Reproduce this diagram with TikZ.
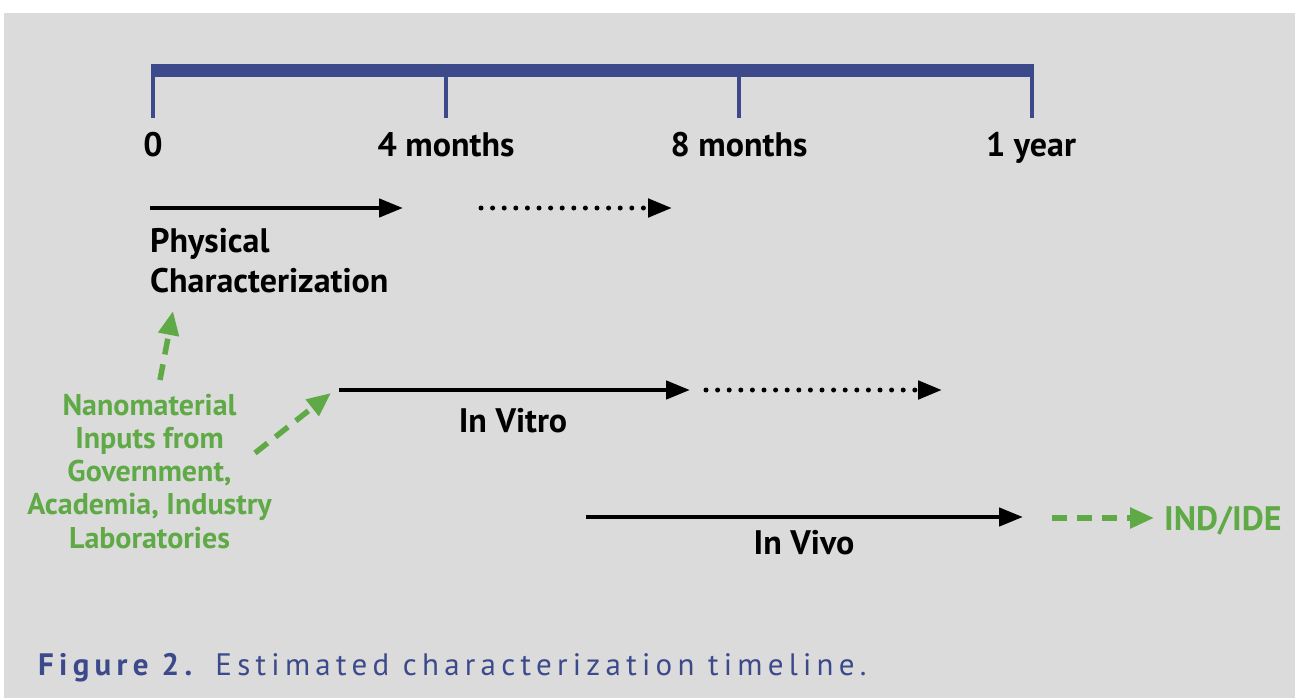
\documentclass[tikz,border=0pt]{standalone}
\usepackage{fontspec}
\setmainfont{PT Sans}
\usetikzlibrary{arrows.meta}
\definecolor{bg}{HTML}{DBDBDB}
\definecolor{axisblue}{HTML}{3C4A8C}
\definecolor{ngreen}{HTML}{5FAA46}
\tikzset{
  tl/.style={font=\fontsize{34}{40}\selectfont\bfseries, inner sep=0pt},
  gl/.style={font=\fontsize{30}{33.25}\selectfont\bfseries, text=ngreen, inner sep=0pt, align=center},
  solidarrow/.style={line width=4.5pt, -{Triangle[length=24pt,width=18pt]}},
  dotarrow/.style={line width=5pt, line cap=round, dash pattern=on 0pt off 11.6pt, -{Triangle[length=24pt,width=18pt]}},
  greenarrow/.style={ngreen, line width=5.5pt, dash pattern=on 16pt off 10pt, -{Triangle[length=24pt,width=20pt]}},
  tickline/.style={axisblue, line width=4pt},
}
\begin{document}
\begin{tikzpicture}[x=1pt,y=-1pt]
\useasboundingbox (0,0) rectangle (1295,698);
\fill[white] (0,0) rectangle (1295,698);
\fill[bg] (4,13) rectangle (1295,698);
% axis
\fill[axisblue] (151,64) rectangle (1034,77);
\coordinate (t0) at (153,70);
\coordinate (t1) at (446,70);
\coordinate (t2) at (739,70);
\coordinate (t3) at (1031.5,70);
\foreach \t in {t0,t1,t2,t3} \draw[tickline] (\t) -- ++(0,48);
\node[tl, anchor=base] (l0) at (153,157) {0};
\node[tl, anchor=base] (l1) at (446,157) {4 months};
\node[tl, anchor=base] (l2) at (739,157) {8 months};
\node[tl, anchor=base] (l3) at (1031,157) {1 year};
% physical characterization
\coordinate (p0) at (150,208);
\coordinate (p1) at (403,208);
\coordinate (p2) at (481,208);
\coordinate (p3) at (672,208);
\draw[solidarrow] (p0) -- (p1);
\draw[dotarrow] (p2) -- (p3);
\node[tl, anchor=base west] (pc1) at (150,252) {Physical};
\node[tl, anchor=base west] (pc2) at (150,292) {Characterization};
% in vitro
\coordinate (v0) at (339,390);
\coordinate (v1) at (690,390);
\coordinate (v2) at (706,390);
\coordinate (v3) at (942,390);
\draw[solidarrow] (v0) -- (v1);
\draw[dotarrow] (v2) -- (v3);
\node[tl, anchor=base] (iv) at (513,432) {In Vitro};
% in vivo
\coordinate (w0) at (586,517);
\coordinate (w1) at (1023,517);
\draw[solidarrow] (w0) -- (w1);
\node[tl, anchor=base] (ivv) at (804,554) {In Vivo};
% green
\node[gl, anchor=base] (nano) at (149.5,548) {Nanomaterial\\Inputs from\\Government,\\Academia, Industry\\Laboratories};
\coordinate (g0) at (160,380);
\coordinate (g1) at (173,311);
\draw[greenarrow] (g0) -- (g1);
\coordinate (g2) at (255,453);
\coordinate (g3) at (331,393);
\draw[greenarrow] (g2) -- (g3);
\coordinate (g4) at (1052,518);
\coordinate (g5) at (1154,518);
\draw[greenarrow, dash pattern=on 15pt off 10pt] (g4) -- (g5);
\node[gl, anchor=base west, font=\fontsize{34}{36}\selectfont\bfseries] (ind) at (1164,530) {IND/IDE};
% caption
\node[anchor=base west, inner sep=0pt, text=axisblue, font=\fontsize{31}{34}\selectfont] (cap) at (38,675)
  {\addfontfeatures{LetterSpace=17}\textbf{Figure 2.} Estimated characterization timeline.};
\end{tikzpicture}
\end{document}
